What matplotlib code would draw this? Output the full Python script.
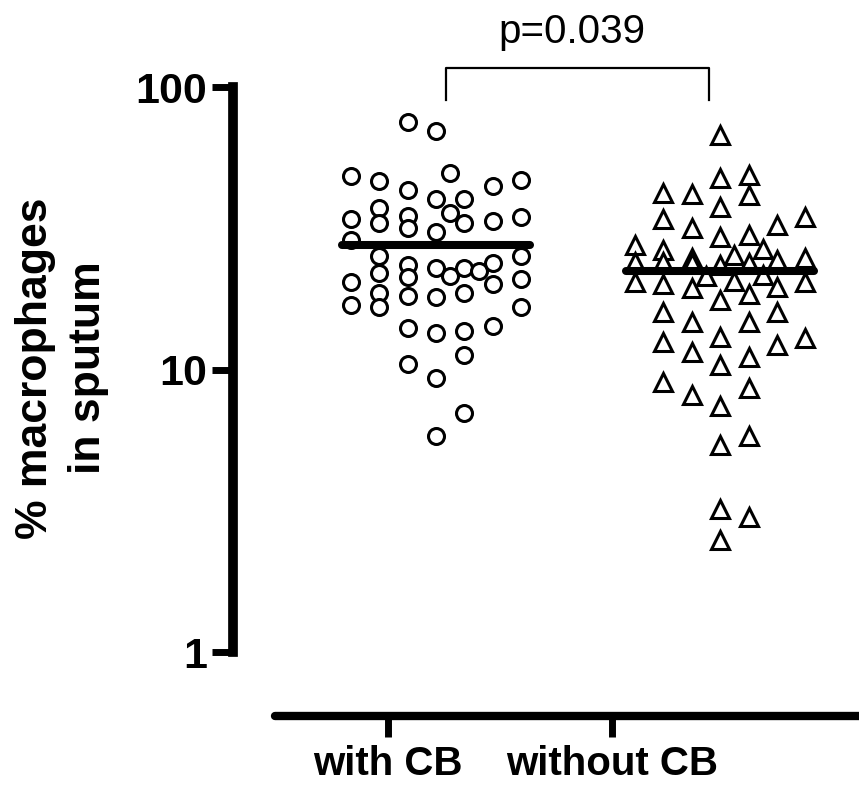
import numpy as np
import matplotlib
matplotlib.use("Agg")
import matplotlib.pyplot as plt

plt.rcParams['font.family'] = ['Liberation Sans', 'DejaVu Sans']

# with CB: swarm slot (half-steps from group centre) and value (%)
with_slot = [-2, 0, -6, -4, 1, 4, 6, -2, 0, 2,
             -4, 1, -6, -4, -2, -2, 2, 4, 6, 0,
             -6, -4, 6, -2, 0, 1, 2, 3, 4, -4,
             -2, 6, -6, 4, -4, -2, 0, 2, -6, -4,
             6, -2, 0, 2, 4, 2, -2, 0, 2, 0]
with_val = [75.2, 69.9, 48.4, 46.5, 49.6, 44.6, 46.9, 43.2, 40.1, 40.1,
            37.3, 35.8, 34.1, 33.0, 34.9, 31.7, 33.0, 33.6, 34.7, 30.7,
            28.7, 25.2, 25.2, 23.4, 22.9, 21.4, 22.9, 22.3, 23.8, 22.0,
            21.3, 20.9, 20.4, 20.1, 18.7, 18.2, 18.1, 18.7, 16.9, 16.6,
            16.6, 14.0, 13.5, 13.7, 14.3, 11.3, 10.5, 9.3, 7.0, 5.8]

# without CB
without_slot = [0, 2, 0, -4, -2, 2, 0, 6, -4, 4,
                -2, 2, 0, -6, -4, 3, 1, -2, 6, 4,
                -6, -4, -2, 2, 0, -1, 3, 1, -6, -4,
                6, 4, -2, 2, 0, -4, 4, -2, 2, 0,
                6, -4, 4, -2, 2, 0, -4, 2, -2, 0,
                2, 0, 0, 2, 0]
without_val = [67.6, 48.8, 47.6, 42.2, 41.8, 41.5, 37.6, 34.7, 34.1, 32.5,
               31.7, 29.9, 29.4, 27.6, 26.5, 26.7, 25.4, 24.8, 24.8, 24.4,
               24.0, 24.0, 23.8, 23.8, 23.4, 21.4, 21.6, 20.6, 20.4, 20.1,
               20.4, 19.6, 19.4, 18.5, 17.6, 16.0, 16.0, 14.7, 14.7, 13.0,
               12.9, 12.5, 12.2, 11.5, 11.1, 10.4, 9.0, 8.6, 8.1, 7.4,
               5.8, 5.4, 3.2, 3.0, 2.5]

medians = [27.6, 22.3]
groups = ['with CB', 'without CB']
p_text = 'p=0.039'
yticks = [1, 10, 100]
yticklabels = ['1', '10', '100']

step = 0.05

fig = plt.figure(figsize=(8.59, 7.88), dpi=100)
ax = fig.add_axes([233/859, 136/788, 626/859, 565/788])

ax.plot(np.array(with_slot)*step + 0, with_val, 'o', ms=11.5, mfc='white',
        mec='black', mew=2.2, clip_on=False, zorder=3)
ax.plot(np.array(without_slot)*step + 1, without_val, '^', ms=13, mfc='white',
        mec='black', mew=2.2, clip_on=False, zorder=3)

for i, m in enumerate(medians):
    ax.plot([i - 0.33, i + 0.33], [m, m], color='black', lw=5.8,
            solid_capstyle='round', zorder=4)

ax.set_yscale('log')
ax.set_ylim(1, 100)
ax.set_xlim(-0.715, 1.489)
ax.set_yticks(yticks)
ax.set_yticklabels(yticklabels, fontsize=31, fontweight='bold')
ax.yaxis.set_minor_locator(matplotlib.ticker.NullLocator())
ax.tick_params(axis='y', length=15, width=5, pad=3.5)
ax.set_xticks([])
for s in ['top', 'right', 'bottom']:
    ax.spines[s].set_visible(False)
ax.spines['left'].set_linewidth(7)

# significance bracket
top, low = 116.8, 89.9
ax.plot([0.035, 0.035, 0.961, 0.961], [low, top, top, low], color='black',
        lw=1.6, clip_on=False)
ax.text(0.477, 143, p_text, ha='center', va='baseline', fontsize=29)

fig.text(62/859, 0.533, '% macrophages\nin sputum', rotation=90, ha='center',
         va='center', fontsize=32, fontweight='bold', linespacing=1.4)

# detached category axis
ax2 = fig.add_axes([275/859, 72/788, 584/859, 0.001])
ax2.set_xlim(-0.5045, 2.1027)
ax2.set_ylim(0, 1)
ax2.set_yticks([])
ax2.set_xticks([0, 1])
ax2.set_xticklabels(groups, fontsize=29, fontweight='bold')
ax2.tick_params(axis='x', length=15, width=5, pad=6)
for s in ['top', 'right', 'left']:
    ax2.spines[s].set_visible(False)
ax2.spines['bottom'].set_linewidth(6)
ax2.spines['bottom'].set_capstyle('round')
ax2.patch.set_visible(False)

fig.savefig('out.png', dpi=100)
